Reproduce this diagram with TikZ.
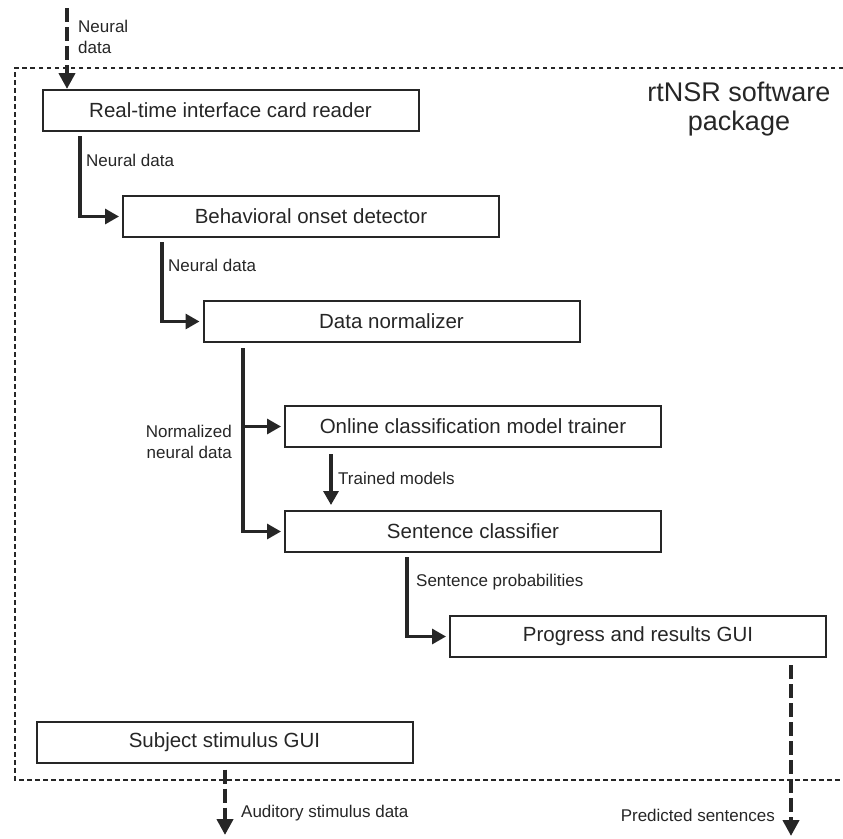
\documentclass[tikz,border=0pt]{standalone}
\usepackage{fontspec}
\setmainfont{Liberation Sans}
\usetikzlibrary{arrows.meta}
\tikzset{
  module/.style={draw, line width=2pt, minimum width=376pt, minimum height=41pt, inner sep=0pt, font=\fontsize{20.5}{24}\selectfont},
  lbl/.style={inner sep=0pt, align=left, font=\fontsize{17}{21.5}\selectfont},
  flow/.style={line width=3.2pt, -{Triangle[length=14pt,width=15pt]}},
  ioflow/.style={line width=4pt, dash pattern=on 14pt off 5pt, -{Triangle[length=16pt,width=16pt]}},
  pkgframe/.style={line width=2.2pt, dash pattern=on 4.5pt off 3.5pt},
}
\begin{document}
\begin{tikzpicture}[x=1pt,y=-1pt,color=black!85]
\useasboundingbox (0,0) rectangle (843,838);
% software package frame
\draw[pkgframe] (843,68) -- (15,68) -- (15,780) -- (843,780);
\node[align=center,font=\fontsize{27}{29}\selectfont] (pkg) at (739,109) {rtNSR software\\package};

% modules
\node[module] (reader) at (230.5,110.5) {Real-time interface card reader};
\node[module] (onset) at (311,216.5) {Behavioral onset detector};
\node[module] (normalizer) at (391.5,321.5) {Data normalizer};
\node[module] (trainer) at (473,426.5) {Online classification model trainer};
\node[module] (classifier) at (473,531.5) {Sentence classifier};
\node[module] (gui) at (638,636.5) {Progress and results GUI};
\node[module] (stimulus) at (224.5,742) {Subject stimulus GUI};

% data flow
\coordinate (in) at (67,8);
\draw[ioflow] (in) -- (reader.north -| in);
\draw[flow] ([xshift=-150.5pt,yshift=-4pt]reader.south) |- ([xshift=-3pt]onset.west);
\draw[flow] ([xshift=-149pt,yshift=-4pt]onset.south) |- ([xshift=-3pt]normalizer.west);
\coordinate (nrm) at ([xshift=-148.5pt,yshift=-5pt]normalizer.south);
\draw[flow] (nrm) |- ([xshift=-3pt]classifier.west);
\draw[flow] (nrm |- trainer.west) -- ([xshift=-3pt]trainer.west);
\draw[flow] ([xshift=-142pt,yshift=-6pt]trainer.south) -- ([xshift=-142pt,yshift=5pt]classifier.north);
\draw[flow] ([xshift=-66pt,yshift=-4pt]classifier.south) |- ([xshift=-3pt]gui.west);
\coordinate (pred) at (791,836);
\draw[ioflow] (gui.south -| pred) ++(0,7) -- (pred);
\coordinate (aud) at (225,835);
\draw[ioflow] (stimulus.south -| aud) ++(0,6) -- (aud);

% labels
\node[lbl,right] (lblin) at (78,37) {Neural\\data};
\node[lbl,right] (lbl1) at (86,160) {Neural data};
\node[lbl,right] (lbl2) at (168,265) {Neural data};
\node[lbl,left,align=right] (lbl3) at (232,442) {Normalized\\neural data};
\node[lbl,right] (lbl4) at (338,478) {Trained models};
\node[lbl,right] (lbl5) at (416,582) {Sentence probabilities};
\node[lbl,left] (lbl6) at (775,815) {Predicted sentences};
\node[lbl,right] (lbl7) at (241,813) {Auditory stimulus data};
\end{tikzpicture}
\end{document}
